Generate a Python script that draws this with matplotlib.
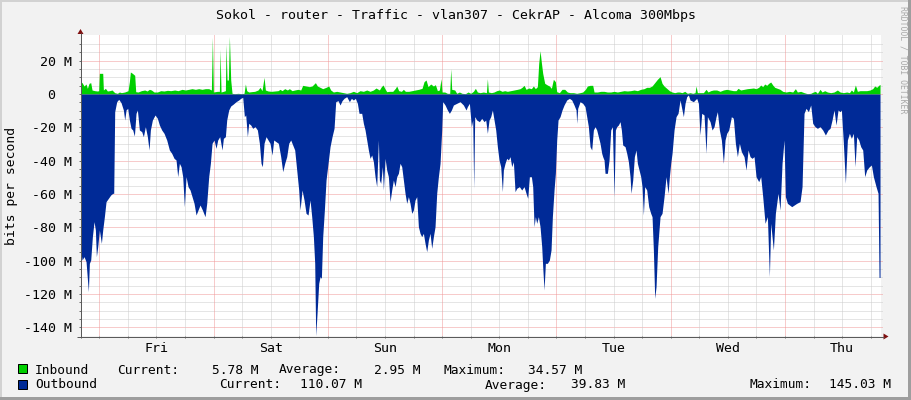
import numpy as np
import matplotlib
matplotlib.use("Agg")
import matplotlib.pyplot as plt
from matplotlib.patches import Polygon, Rectangle

plt.rcParams['font.family'] = ['DejaVu Sans Mono']

TITLE = "Sokol - router - Traffic - vlan307 - CekrAP - Alcoma 300Mbps"
DAYS = ["Fri", "Sat", "Sun", "Mon", "Tue", "Wed", "Thu"]
DAY_CENTERS = [12, 36, 60, 84, 108, 132, 156]      # noon of each day, hours since Fri 00:00
Y_TICKS = [20, 0, -20, -40, -60, -80, -100, -120, -140]
Y_LABELS = ["20 M", "0\u00a0\u00a0", "-20 M", "-40 M", "-60 M", "-80 M", "-100 M", "-120 M", "-140 M"]

IN_STATS = ["5.78 M", "2.95 M", "34.57 M"]
OUT_STATS = ["110.07 M", "39.83 M", "145.03 M"]

# (hours since Friday 00:00, Mbit/s)
INBOUND = [
    (-3.91, 7.4), (-3.63, 6.8), (-3.21, 4.8), (-2.79, 6.0), (-2.51, 3.4), (-2.16, 6.4), (-1.81, 6.8),
    (-1.53, 2.4), (-0.97, 2.0), (-0.41, 1.8), (-0.13, 2.0), (0.01, 12.4), (0.71, 12.4), (0.85, 2.4),
    (1.27, 3.4), (1.69, 1.8), (2.18, 2.0), (2.67, 2.4), (3.23, 0.8), (3.79, 0.4), (4.21, 1.2),
    (4.63, 0.8), (5.33, 1.2), (6.03, 2.0), (6.31, 7.4), (6.52, 13.2), (6.94, 12.4), (7.43, 11.2),
    (7.64, 1.4), (8.13, 1.2), (8.83, 2.0), (9.53, 2.4), (10.02, 1.8), (10.51, 2.8), (10.93, 2.4),
    (11.49, 1.2), (12.19, 1.2), (12.89, 2.0), (13.59, 1.8), (14.29, 2.2), (14.99, 2.0), (15.83, 2.4),
    (16.53, 2.0), (17.37, 2.8), (18.07, 2.4), (18.77, 2.8), (19.47, 3.2), (20.17, 2.8), (20.87, 3.2),
    (21.57, 2.8), (22.27, 3.2), (22.97, 3.2), (23.53, 2.4), (23.74, 34.0), (23.95, 1.2), (24.37, 1.4),
    (24.79, 1.6), (25.21, 1.6), (25.35, 26.8), (25.56, 1.2), (26.05, 1.6), (26.47, 2.0), (26.61, 30.0),
    (26.82, 8.4), (27.10, 8.4), (27.31, 34.57), (27.59, 8.4), (27.87, 0.4), (28.43, 0.2), (29.13, 0.4),
    (29.83, 0.2), (30.39, 0.4), (30.67, 6.0), (30.95, 2.0), (31.37, 1.2), (31.93, 1.4), (32.63, 1.6),
    (33.33, 2.4), (33.75, 4.0), (34.17, 2.0), (34.59, 10.0), (34.87, 2.4), (35.43, 1.8), (36.13, 1.6),
    (36.83, 1.8), (37.53, 2.0), (37.95, 2.8), (38.37, 2.0), (38.93, 3.2), (39.49, 2.4), (39.91, 3.2),
    (40.47, 2.0), (41.03, 2.4), (41.73, 2.8), (42.29, 2.4), (42.71, 5.2), (43.41, 4.8), (44.11, 4.4),
    (44.67, 4.8), (45.37, 6.8), (45.79, 4.8), (46.35, 4.0), (46.91, 3.2), (47.61, 4.0), (48.17, 4.8),
    (48.59, 2.4), (49.15, 1.2), (49.85, 1.6), (50.55, 1.2), (51.25, 0.8), (51.95, 0.4), (52.65, 0.8),
    (53.35, 1.6), (54.05, 0.8), (54.75, 2.0), (55.45, 1.6), (56.15, 2.4), (56.85, 1.6), (57.55, 2.4),
    (58.11, 3.6), (58.81, 2.4), (59.23, 4.4), (59.58, 5.4), (59.93, 3.4), (60.35, 1.4), (60.91, 1.6),
    (61.61, 1.6), (62.17, 3.4), (62.45, 4.8), (62.87, 2.0), (63.43, 1.6), (63.85, 2.8), (64.27, 1.6),
    (64.97, 1.6), (65.67, 2.0), (66.37, 2.4), (67.07, 2.8), (67.77, 3.4), (68.19, 7.4), (68.61, 8.4),
    (69.03, 4.4), (69.59, 6.0), (70.15, 4.8), (70.57, 5.6), (70.99, 2.0), (71.41, 2.4), (71.76, 9.2),
    (71.97, 1.2), (72.53, 1.2), (73.09, 0.4), (73.58, 0.4), (73.79, 15.2), (74.00, 2.8), (74.63, 2.4),
    (75.05, 0.4), (75.61, 1.2), (76.17, 0.4), (76.87, 0.2), (77.43, 1.2), (77.99, 0.4), (78.55, 1.6),
    (78.97, 3.4), (79.39, 1.2), (79.95, 0.8), (80.65, 1.2), (81.28, 0.8), (81.49, 9.2), (81.70, 1.2),
    (82.33, 0.8), (82.89, 1.2), (83.45, 2.0), (84.01, 2.4), (84.57, 1.6), (85.13, 2.0), (85.69, 1.6),
    (86.39, 2.0), (87.09, 2.4), (87.79, 2.8), (88.35, 3.2), (88.77, 4.0), (89.19, 5.2), (89.61, 2.8),
    (90.17, 3.6), (90.73, 3.2), (91.15, 4.8), (91.57, 3.2), (91.99, 4.4), (92.27, 18.4), (92.55, 26.0),
    (92.83, 18.8), (93.11, 12.4), (93.53, 6.4), (94.09, 5.4), (94.51, 4.8), (94.93, 3.4), (95.35, 8.8),
    (95.77, 7.4), (96.05, 1.4), (96.61, 0.8), (97.17, 2.8), (97.73, 2.8), (98.29, 1.2), (98.85, 0.8),
    (99.55, 0.8), (100.25, 0.4), (100.95, 0.8), (101.51, 1.2), (102.07, 2.8), (102.49, 4.8), (103.05, 5.2),
    (103.61, 5.2), (103.89, 1.2), (104.59, 1.2), (105.29, 1.6), (105.99, 1.6), (106.69, 1.2), (107.39, 1.2),
    (108.09, 1.6), (108.79, 1.2), (109.49, 1.6), (110.19, 2.0), (110.89, 1.8), (111.59, 2.0), (112.29, 2.4),
    (112.99, 2.0), (113.69, 2.8), (114.39, 3.2), (114.95, 4.0), (115.51, 4.0), (116.07, 4.8), (116.63, 6.8),
    (117.19, 8.8), (117.75, 10.4), (118.17, 6.4), (118.59, 4.8), (119.15, 3.4), (119.71, 2.0), (120.27, 1.2),
    (120.83, 0.8), (121.39, 1.2), (121.81, 1.2), (122.37, 0.8), (122.93, 1.6), (123.49, 0.4), (124.05, 0.8),
    (124.61, 0.4), (125.10, 0.8), (125.31, 4.8), (125.59, 0.8), (126.15, 0.8), (126.85, 0.8), (127.41, 2.8),
    (127.83, 1.2), (128.39, 2.0), (128.95, 2.4), (129.65, 2.4), (130.35, 1.6), (131.05, 2.4), (131.75, 2.8),
    (132.45, 2.4), (133.15, 2.0), (133.71, 2.0), (134.13, 3.4), (134.69, 2.4), (135.39, 2.8), (136.09, 3.2),
    (136.79, 3.4), (137.35, 3.6), (137.91, 3.2), (138.47, 4.0), (138.89, 5.4), (139.31, 4.4), (139.73, 6.0),
    (140.15, 5.2), (140.57, 6.4), (140.99, 7.2), (141.41, 5.4), (141.83, 4.0), (142.39, 3.4), (142.95, 2.8),
    (143.51, 1.6), (144.21, 1.2), (144.91, 1.6), (145.61, 1.2), (146.17, 3.2), (146.59, 1.2), (147.29, 1.6),
    (147.99, 0.8), (148.69, 0.2), (149.39, 0.4), (149.95, 1.2), (150.37, 1.6), (150.79, 0.4), (151.35, 2.8),
    (151.77, 1.2), (152.33, 2.0), (152.89, 1.2), (153.59, 0.8), (154.29, 1.2), (154.99, 2.4), (155.55, 1.2),
    (156.25, 0.8), (156.95, 1.2), (157.51, 0.8), (157.93, 2.4), (158.35, 1.2), (158.77, 5.4), (159.19, 1.6),
    (159.75, 2.0), (160.45, 2.0), (161.15, 2.0), (161.85, 2.4), (162.41, 3.2), (162.83, 4.8), (163.25, 4.0),
    (163.67, 5.2), (163.95, 5.78),
]

OUTBOUND = [
    (-3.91, 93.6), (-3.63, 99.6), (-3.21, 97.6), (-2.79, 100.6), (-2.30, 118.6), (-2.09, 101.6), (-1.81, 99.6),
    (-1.46, 85.6), (-1.11, 76.6), (-0.83, 81.6), (-0.62, 97.6), (-0.34, 91.6), (0.01, 81.6), (0.43, 89.6),
    (0.71, 81.6), (1.06, 73.6), (1.41, 64.6), (1.90, 62.6), (2.39, 60.6), (2.81, 59.6), (3.02, 59.6),
    (3.23, 10.6), (3.65, 4.6), (4.07, 3.2), (4.56, 5.2), (5.05, 9.6), (5.33, 15.6), (5.61, 9.6),
    (5.96, 8.6), (6.31, 15.6), (6.66, 20.6), (7.01, 21.6), (7.36, 25.2), (7.71, 11.6), (7.99, 9.6),
    (8.41, 21.6), (8.90, 22.6), (9.25, 25.6), (9.67, 19.6), (10.09, 25.6), (10.44, 33.6), (10.72, 21.6),
    (11.14, 15.6), (11.70, 12.6), (12.19, 14.6), (12.61, 18.6), (13.10, 21.6), (13.59, 23.6), (14.15, 27.6),
    (14.71, 33.6), (15.20, 35.6), (15.69, 38.6), (16.11, 39.6), (16.46, 49.6), (16.81, 41.6), (17.16, 43.6),
    (17.51, 49.6), (17.86, 67.6), (18.21, 49.6), (18.63, 55.6), (19.05, 57.6), (19.47, 61.6), (19.89, 65.6),
    (20.31, 72.6), (20.73, 69.6), (21.15, 66.6), (21.64, 69.6), (22.20, 73.6), (22.55, 65.6), (22.97, 49.6),
    (23.32, 41.6), (23.67, 29.6), (24.09, 27.6), (24.51, 32.6), (24.86, 27.6), (25.28, 25.6), (25.77, 33.6),
    (26.05, 26.6), (26.47, 25.6), (26.75, 15.6), (27.17, 9.6), (27.59, 7.2), (28.15, 6.0), (28.71, 4.6),
    (29.27, 3.6), (29.69, 2.6), (30.11, 2.0), (30.46, 13.6), (30.74, 12.6), (31.09, 25.6), (31.37, 17.6),
    (31.79, 18.6), (32.21, 20.6), (32.70, 19.6), (33.19, 21.6), (33.61, 29.6), (33.96, 41.6), (34.24, 43.6),
    (34.59, 29.6), (35.01, 25.6), (35.43, 27.6), (35.85, 29.6), (36.27, 36.6), (36.62, 27.6), (37.11, 28.6),
    (37.60, 29.6), (38.09, 37.6), (38.51, 46.6), (38.93, 41.6), (39.35, 37.6), (39.77, 29.6), (40.19, 27.6),
    (40.61, 30.6), (41.03, 33.6), (41.45, 45.6), (41.87, 57.6), (42.15, 69.6), (42.57, 57.6), (42.99, 63.6),
    (43.41, 71.6), (43.83, 72.6), (44.25, 63.6), (44.60, 73.6), (44.95, 85.6), (45.23, 101.6), (45.44, 145.03),
    (45.72, 131.6), (46.07, 113.6), (46.35, 109.6), (46.63, 110.6), (46.91, 85.6), (47.26, 69.6), (47.61, 51.6),
    (48.03, 41.6), (48.45, 31.6), (48.87, 25.6), (49.29, 20.6), (49.64, 4.6), (50.13, 4.0), (50.55, 6.6),
    (50.97, 4.0), (51.39, 2.6), (51.95, 1.6), (52.51, 4.6), (52.93, 2.6), (53.35, 3.6), (53.77, 2.6),
    (54.19, 5.6), (54.54, 11.6), (54.75, 11.6), (55.10, 11.6), (55.45, 17.6), (55.80, 21.6), (56.15, 27.6),
    (56.50, 33.6), (56.85, 38.6), (57.20, 36.6), (57.55, 40.6), (57.90, 49.6), (58.25, 55.6), (58.60, 27.6),
    (58.81, 51.6), (59.09, 53.6), (59.44, 43.6), (59.65, 57.6), (60.00, 38.6), (60.35, 45.6), (60.70, 49.6),
    (61.05, 64.6), (61.40, 57.6), (61.75, 51.6), (62.10, 55.6), (62.45, 49.6), (62.80, 47.6), (63.15, 41.6),
    (63.50, 43.6), (63.85, 51.6), (64.20, 59.6), (64.55, 65.6), (64.90, 61.6), (65.25, 65.6), (65.60, 71.6),
    (65.95, 69.6), (66.30, 63.6), (66.65, 61.6), (67.00, 79.6), (67.35, 83.6), (67.70, 85.6), (68.05, 83.6),
    (68.40, 89.6), (68.75, 94.6), (69.10, 87.6), (69.45, 83.6), (69.80, 92.6), (70.15, 85.6), (70.50, 79.6),
    (70.85, 59.6), (71.20, 49.6), (71.55, 41.6), (71.90, 21.6), (72.11, 4.6), (72.60, 6.6), (73.09, 9.6),
    (73.51, 11.6), (73.93, 9.6), (74.35, 6.6), (75.05, 5.6), (75.75, 4.6), (76.45, 6.6), (77.01, 9.6),
    (77.29, 7.6), (77.71, 5.6), (78.13, 19.6), (78.41, 15.6), (78.62, 56.6), (78.83, 13.6), (79.25, 15.6),
    (79.81, 16.6), (80.30, 14.6), (80.79, 16.6), (81.14, 15.6), (81.49, 23.6), (81.84, 15.6), (82.19, 13.6),
    (82.54, 9.6), (82.89, 15.6), (83.24, 21.6), (83.59, 31.6), (83.94, 39.6), (84.29, 43.6), (84.64, 58.6),
    (84.85, 45.6), (85.20, 41.6), (85.55, 38.6), (85.90, 39.6), (86.25, 37.6), (86.60, 43.6), (86.95, 40.6),
    (87.30, 58.6), (87.65, 56.6), (88.21, 55.6), (88.70, 57.6), (89.19, 55.6), (89.61, 59.6), (89.96, 62.6),
    (90.31, 49.6), (90.73, 49.6), (91.01, 55.6), (91.29, 79.6), (91.57, 73.6), (91.85, 77.6), (92.20, 73.6),
    (92.55, 79.6), (92.90, 91.6), (93.11, 103.6), (93.39, 117.6), (93.67, 101.6), (94.09, 101.6), (94.51, 99.6),
    (94.86, 93.6), (95.14, 73.6), (95.49, 57.6), (95.77, 47.6), (96.05, 27.6), (96.33, 15.6), (96.75, 13.6),
    (97.17, 9.6), (97.59, 6.6), (98.15, 3.6), (98.71, 2.6), (99.20, 3.6), (99.69, 6.6), (100.11, 9.6),
    (100.25, 17.6), (100.46, 8.6), (100.95, 4.6), (101.51, 5.6), (102.00, 7.6), (102.35, 13.6), (102.70, 19.6),
    (103.05, 31.6), (103.40, 33.6), (103.75, 21.6), (104.10, 19.6), (104.45, 21.6), (104.80, 25.6),
    (105.15, 29.6), (105.50, 35.6), (105.71, 37.6), (105.99, 39.6), (106.20, 47.6), (106.69, 47.6),
    (107.04, 39.6), (107.39, 21.6), (107.74, 19.6), (108.09, 61.6), (108.37, 21.6), (108.65, 19.6),
    (109.00, 18.6), (109.35, 16.6), (109.63, 21.6), (109.91, 30.6), (110.40, 31.6), (110.75, 35.6),
    (111.10, 40.6), (111.45, 49.6), (111.66, 59.6), (112.01, 51.6), (112.36, 37.6), (112.71, 33.6),
    (112.99, 41.6), (113.34, 45.6), (113.69, 49.6), (113.97, 55.6), (114.25, 72.6), (114.53, 55.6),
    (114.95, 57.6), (115.37, 67.6), (115.79, 71.6), (116.07, 73.6), (116.35, 93.6), (116.63, 122.6),
    (116.91, 115.6), (117.26, 91.6), (117.75, 73.6), (118.17, 71.6), (118.59, 61.6), (119.01, 49.6),
    (119.43, 59.6), (119.71, 49.6), (119.99, 41.6), (120.27, 35.6), (120.69, 21.6), (121.11, 13.6),
    (121.53, 11.6), (121.95, 3.6), (122.37, 9.6), (122.65, 13.6), (123.00, 5.6), (123.35, 1.6),
    (123.70, 0.6), (124.05, 3.6), (124.75, 4.6), (125.45, 2.6), (125.80, 5.6), (126.15, 24.6),
    (126.50, 11.6), (126.99, 12.6), (127.41, 35.6), (127.69, 13.6), (128.25, 16.6), (128.67, 21.6),
    (129.09, 19.6), (129.51, 13.6), (129.79, 10.6), (130.21, 21.6), (130.63, 27.6), (131.05, 41.6),
    (131.40, 27.6), (131.75, 23.6), (132.17, 21.6), (132.73, 13.6), (133.15, 14.6), (133.57, 29.6),
    (133.99, 37.6), (134.41, 29.6), (134.83, 34.6), (135.39, 37.6), (135.81, 45.6), (136.23, 33.6),
    (136.65, 37.6), (137.07, 38.6), (137.49, 37.6), (137.91, 49.6), (138.47, 52.6), (138.89, 49.6),
    (139.31, 61.6), (139.80, 77.6), (140.29, 73.6), (140.71, 109.6), (140.99, 77.6), (141.55, 93.6),
    (141.97, 71.6), (142.53, 59.6), (142.95, 69.6), (143.37, 41.6), (143.79, 27.6), (144.07, 61.6),
    (144.49, 65.6), (145.40, 67.6), (146.45, 65.6), (147.15, 64.6), (147.57, 55.6), (147.99, 11.6),
    (148.41, 8.6), (148.90, 10.6), (149.39, 6.6), (149.81, 17.6), (150.30, 19.6), (150.79, 20.6),
    (151.35, 19.6), (151.91, 21.6), (152.47, 24.6), (153.03, 21.6), (153.45, 20.6), (153.87, 15.6),
    (154.29, 9.6), (154.71, 18.6), (155.13, 9.6), (155.55, 10.6), (155.83, 9.6), (156.25, 29.6),
    (156.67, 53.6), (157.09, 27.6), (157.51, 23.6), (157.93, 26.6), (158.35, 23.6), (158.70, 43.6),
    (159.05, 25.6), (159.47, 27.6), (159.89, 31.6), (160.31, 33.6), (160.73, 49.6), (161.15, 45.6),
    (161.71, 43.6), (162.13, 42.6), (162.55, 49.6), (163.11, 55.6), (163.53, 59.6), (163.74, 110.07),
    (163.95, 110.07),
]

in_hours = np.array([p[0] for p in INBOUND])
in_mbps = np.array([p[1] for p in INBOUND])
out_hours = np.array([p[0] for p in OUTBOUND])
out_mbps = np.array([p[1] for p in OUTBOUND])

W, H = 911, 400
fig = plt.figure(figsize=(W / 100, H / 100), dpi=100, facecolor='#F2F2F2')

# plot area: x 81..881, y 35..336 (pixels)
ax = fig.add_axes([81 / W, 1 - 336 / H, 800 / W, 301 / H])
ax.set_facecolor('white')
ax.set_xlim(-3.85, 164.15)
ax.set_ylim(-145.2, 35.4)
for s in ax.spines.values():
    s.set_visible(False)

dots = (0, (1, 1))
for v in range(-140, 35, 5):
    major = v % 20 == 0
    ax.axhline(v, xmax=1.003, color='#F09898' if major else '#CCCCCC', lw=0.72, ls=dots,
               zorder=0.5, clip_on=False)
for h in range(0, 164, 6):
    major = h % 24 == 0
    ax.axvline(h, color='#F09898' if major else '#CCCCCC', lw=0.72, ls=dots, zorder=0.5)

ax.fill_between(in_hours, 0, in_mbps, color='#00CF00', lw=0, zorder=2)
ax.fill_between(out_hours, -out_mbps, 0, color='#002A97', lw=0, zorder=2)

ax.set_yticks(Y_TICKS, Y_LABELS)
ax.set_yticks([v for v in range(-140, 35, 5)], minor=True)
ax.set_xticks(DAY_CENTERS, DAYS)
ax.set_xticks(list(range(0, 164, 6)), minor=True)
ax.tick_params(which='both', direction='out', length=1.5, width=0.72, color='#707070')
ax.tick_params(axis='y', which='major', pad=5.0, labelsize=9.5)
ax.tick_params(axis='x', which='major', pad=2.6, labelsize=9.5)

# overlay in pixel coordinates for frame, axis arrows, texts
ov = fig.add_axes([0, 0, 1, 1])
ov.set_xlim(0, W)
ov.set_ylim(H, 0)
ov.axis('off')
ov.patch.set_alpha(0)

ov.add_patch(Rectangle((0, 0), W, 2, color='#D2D2D2', lw=0))
ov.add_patch(Rectangle((0, 0), 2, H, color='#D2D2D2', lw=0))
ov.add_patch(Rectangle((W - 3, 0), 3, H, color='#9E9E9E', lw=0))
ov.add_patch(Rectangle((0, H - 3), W, 3, color='#9E9E9E', lw=0))

axis_col = '#5A5A5A'
arrow_col = '#7F1010'
ov.plot([80.5, 80.5], [338, 33], color=axis_col, lw=0.72, solid_capstyle='butt')
ov.plot([77, 884], [336.5, 336.5], color=axis_col, lw=0.72, solid_capstyle='butt')
ov.add_patch(Polygon([(77.5, 34), (83.5, 34), (80.5, 29)], closed=True, color=arrow_col, lw=0))
ov.add_patch(Polygon([(883.5, 333.5), (883.5, 339.5), (888.5, 336.5)], closed=True, color=arrow_col, lw=0))

ov.text(455.5, 18.5, TITLE, ha='center', va='baseline', fontsize=9.57, color='black')
ov.text(11.5, 186, "bits per second", rotation=90, ha='center', va='center', fontsize=9.4)
ov.text(902.5, 6, "RRDTOOL / TOBI OETIKER", rotation=270, ha='center', va='top',
        fontsize=5.9, color='#A8A8A8')

# legend
fs = 9.3
ov.add_patch(Rectangle((17.5, 364.0), 9, 9, facecolor='#00CF00', edgecolor='black', lw=0.72))
ov.add_patch(Rectangle((17.5, 379.5), 9, 9, facecolor='#002A97', edgecolor='black', lw=0.72))
b1, b2 = 373.5, 388.5
ov.text(35, b1, "Inbound", fontsize=fs, va='baseline')
ov.text(116.7, b1, "Current:", fontsize=fs, va='baseline')
ov.text(212, b1, IN_STATS[0], fontsize=fs, va='baseline')
ov.text(279, b1, "Average:", fontsize=fs, va='baseline')
ov.text(374, b1, IN_STATS[1], fontsize=fs, va='baseline')
ov.text(443, b1, "Maximum:", fontsize=fs, va='baseline')
ov.text(528, b1, IN_STATS[2], fontsize=fs, va='baseline')
ov.text(35, b2, "Outbound", fontsize=fs, va='baseline')
ov.text(219, b2, "Current:", fontsize=fs, va='baseline')
ov.text(300, b2, OUT_STATS[0], fontsize=fs, va='baseline')
ov.text(485, b2, "Average:", fontsize=fs, va='baseline')
ov.text(571, b2, OUT_STATS[1], fontsize=fs, va='baseline')
ov.text(750, b2, "Maximum:", fontsize=fs, va='baseline')
ov.text(829, b2, OUT_STATS[2], fontsize=fs, va='baseline')

fig.savefig("out.png", dpi=100, facecolor=fig.get_facecolor())
